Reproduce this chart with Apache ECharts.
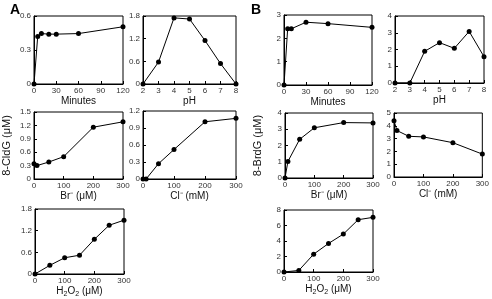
<!DOCTYPE html>
<html>
<head>
<meta charset="utf-8">
<script src="https://cdn.jsdelivr.net/npm/echarts@6/dist/echarts.min.js"></script>
<style>
  html, body { margin: 0; padding: 0; background: #fff; }
  #chart { width: 492px; height: 299px; }
</style>
</head>
<body>
<div id="chart"></div>
<script>
// data
var minutesA = [0, 5, 10, 20, 30, 60, 120];
var cldgMinutes = [0, 0.42, 0.445, 0.44, 0.44, 0.445, 0.505];
var phX = [2, 3, 4, 5, 6, 7, 8];
var cldgPh = [0, 0.58, 1.75, 1.72, 1.15, 0.54, 0];
var brX = [0, 10, 50, 100, 200, 300];
var cldgBr = [0.34, 0.30, 0.38, 0.50, 1.16, 1.28];
var clX = [0, 10, 50, 100, 200, 300];
var cldgCl = [0, 0, 0.27, 0.52, 1.01, 1.07];
var h2o2X = [0, 50, 100, 150, 200, 250, 300];
var cldgH2o2 = [0, 0.24, 0.45, 0.52, 0.96, 1.35, 1.49];

var minutesB = [0, 5, 10, 30, 60, 120];
var brdgMinutes = [0, 2.41, 2.41, 2.69, 2.63, 2.47];
var brdgPh = [0, 0, 1.89, 2.41, 2.07, 3.08, 1.57];
var brdgBr = [0, 1.02, 2.38, 3.09, 3.41, 3.39];
var brdgCl = [4.39, 3.63, 3.18, 3.13, 2.68, 1.79];
var brdgH2o2 = [0, 0.2, 2.3, 3.68, 4.89, 6.75, 7.05];

var panels = [
  { g: [34, 16, 89, 68], x: minutesA, y: cldgMinutes, xr: [0, 120, 30], yr: [0.6, 0.3], xn: 'Minutes' },
  { g: [143, 16, 93, 68], x: phX, y: cldgPh, xr: [2, 8, 1], yr: [1.8, 0.6], xn: 'pH' },
  { g: [34, 112, 89, 67], x: brX, y: cldgBr, xr: [0, 300, 100], yr: [1.5, 0.3], xn: 'Br\u207B (\u03BCM)', yn: '8-CldG (\u03BCM)' },
  { g: [143, 111, 93, 68], x: clX, y: cldgCl, xr: [0, 300, 100], yr: [1.2, 0.3], xn: 'Cl\u207B (mM)' },
  { g: [35, 209, 89, 65], x: h2o2X, y: cldgH2o2, xr: [0, 300, 100], yr: [1.8, 0.6], xn: 'H2O2' },
  { g: [284, 15, 88, 70], x: minutesB, y: brdgMinutes, xr: [0, 120, 30], yr: [3, 1], xn: 'Minutes' },
  { g: [395, 16, 89, 67], x: phX, y: brdgPh, xr: [2, 8, 1], yr: [4, 1], xn: 'pH' },
  { g: [285, 113, 88, 65], x: brX, y: brdgBr, xr: [0, 300, 100], yr: [4, 1], xn: 'Br\u207B (\u03BCM)', yn: '8-BrdG (\u03BCM)' },
  { g: [394, 113, 90, 64], x: clX, y: brdgCl, xr: [0, 300, 100], yr: [5, 1], xn: 'Cl\u207B (mM)' },
  { g: [284, 210, 89, 62], x: h2o2X, y: brdgH2o2, xr: [0, 300, 100], yr: [8, 2], xn: 'H2O2' }
];

var font = 'Liberation Sans, Arial, sans-serif';
var grids = [], xAxes = [], yAxes = [], series = [];

panels.forEach(function (p, i) {
  grids.push({
    left: p.g[0], top: p.g[1], width: p.g[2], height: p.g[3],
    show: true, borderColor: '#000', borderWidth: 1, backgroundColor: 'transparent'
  });
  xAxes.push({
    type: 'value', gridIndex: i,
    min: p.xr[0], max: p.xr[1], interval: p.xr[2],
    name: p.xn === 'H2O2' ? '{n|H}{s|2}{n|O}{s|2}{n| (\u03BCM)}' : p.xn,
    nameLocation: 'middle', nameGap: 11,
    nameTextStyle: {
      fontFamily: font, fontSize: 10, color: '#111',
      rich: {
        n: { fontFamily: font, fontSize: 10, color: '#111' },
        s: { fontFamily: font, fontSize: 7, color: '#111', verticalAlign: 'bottom', padding: [6, 0, 0, 0] }
      }
    },
    splitLine: { show: false },
    axisLine: { lineStyle: { color: '#000', width: 1 } },
    axisTick: { inside: true, length: 3, lineStyle: { color: '#000' } },
    axisLabel: { fontFamily: font, fontSize: 8, color: '#333', margin: 3 }
  });
  yAxes.push({
    type: 'value', gridIndex: i,
    min: 0, max: p.yr[0], interval: p.yr[1],
    name: p.yn || '',
    nameLocation: 'middle', nameGap: 22,
    nameTextStyle: { fontFamily: font, fontSize: 11, color: '#111' },
    splitLine: { show: false },
    axisLine: { lineStyle: { color: '#000', width: 1 } },
    axisTick: { inside: true, length: 3, lineStyle: { color: '#000' } },
    axisLabel: { fontFamily: font, fontSize: 8, color: '#333', margin: 3 }
  });
  series.push({
    type: 'line', xAxisIndex: i, yAxisIndex: i,
    data: p.x.map(function (v, k) { return [v, p.y[k]]; }),
    symbol: 'circle', symbolSize: 5,
    lineStyle: { color: '#000', width: 1 },
    itemStyle: { color: '#000' },
    animation: false
  });
});

var myChart = echarts.init(document.getElementById('chart'));
myChart.setOption({
  backgroundColor: '#fff',
  title: [
    { text: 'A', left: 5, top: -2, textStyle: { fontFamily: font, fontSize: 14, fontWeight: 'bold', color: '#000' } },
    { text: 'B', left: 246, top: -2, textStyle: { fontFamily: font, fontSize: 14, fontWeight: 'bold', color: '#000' } }
  ],
  grid: grids,
  xAxis: xAxes,
  yAxis: yAxes,
  series: series
});
</script>
</body>
</html>
